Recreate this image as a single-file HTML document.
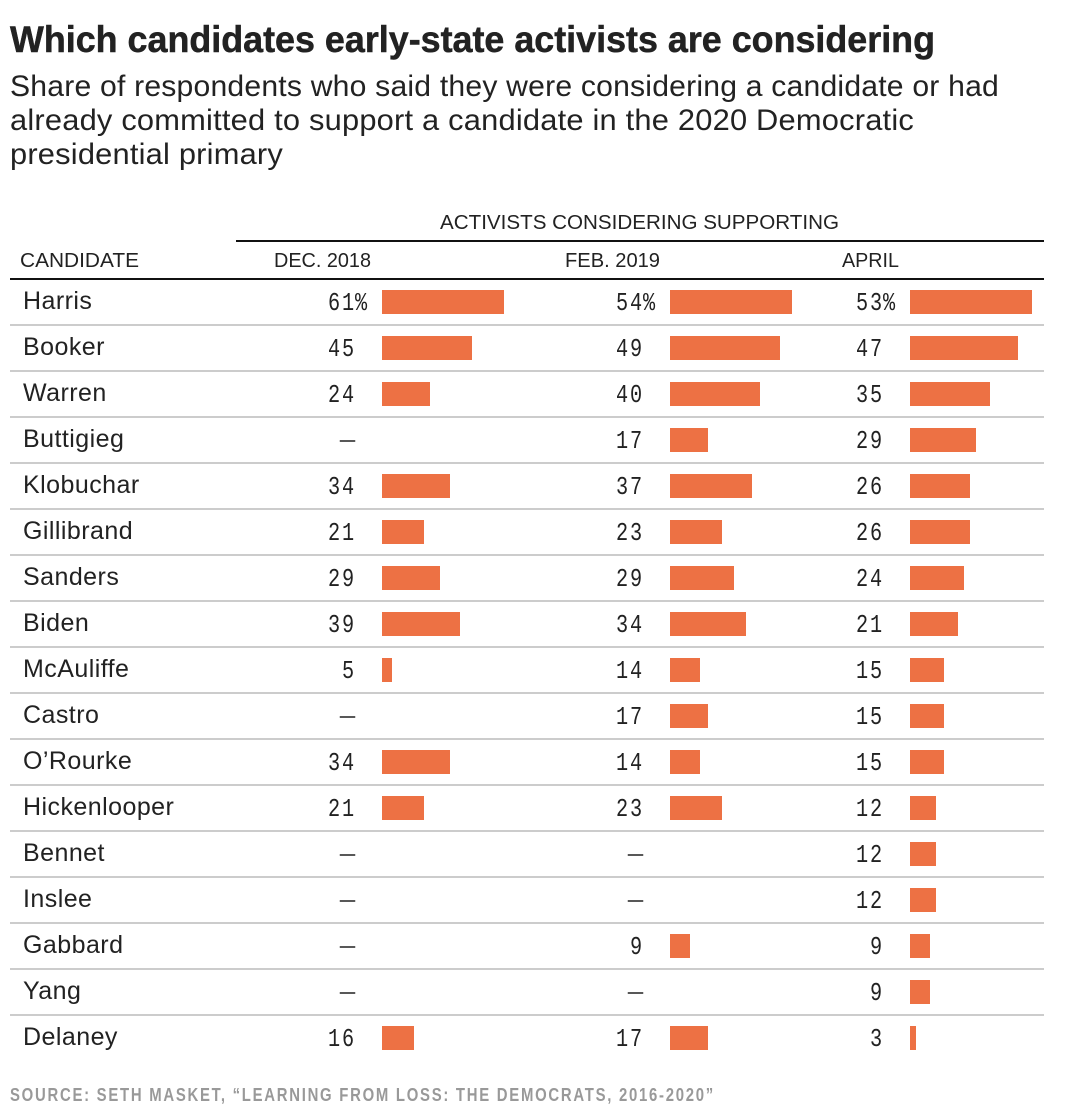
<!DOCTYPE html>
<html>
<head>
<meta charset="utf-8">
<title>Which candidates early-state activists are considering</title>
<style>
html,body{margin:0;padding:0;background:#fff;width:1086px;height:1110px;overflow:hidden}
svg{display:block}
text{font-family:"Liberation Sans",sans-serif;fill:#222}
.title{font-size:37px;font-weight:700;fill:#222;stroke:#222;stroke-width:.5px}
.sub{font-size:29.5px;letter-spacing:.2px;fill:#222}
.head{font-size:20px;fill:#222}
.name{font-size:25px;letter-spacing:.45px;fill:#222}
.num{font-family:"Liberation Mono",monospace;font-size:26px;letter-spacing:2.4px;fill:#222}
.dash{font-size:15px;fill:#222;stroke:#222;stroke-width:.5px}
.src{font-size:18px;font-weight:700;fill:#999;letter-spacing:2.1px}
</style>
</head>
<body>
<svg id="chart" xmlns="http://www.w3.org/2000/svg" width="1086" height="1110" viewBox="0 0 1086 1110">
<rect width="1086" height="1110" fill="#fff"/>
<text class="title" x="10" y="52" textLength="925" lengthAdjust="spacingAndGlyphs">Which candidates early-state activists are considering</text>
<text class="sub" x="10" y="96" textLength="989" lengthAdjust="spacingAndGlyphs">Share of respondents who said they were considering a candidate or had</text>
<text class="sub" x="10" y="130" textLength="904" lengthAdjust="spacingAndGlyphs">already committed to support a candidate in the 2020 Democratic</text>
<text class="sub" x="10" y="164" textLength="273" lengthAdjust="spacingAndGlyphs">presidential primary</text>
<text class="head" x="440" y="229" textLength="399" lengthAdjust="spacingAndGlyphs">ACTIVISTS CONSIDERING SUPPORTING</text>
<rect x="236" y="240" width="808" height="2" fill="#111"/>
<text class="head" x="20" y="267" textLength="119" lengthAdjust="spacingAndGlyphs">CANDIDATE</text>
<text class="head" x="274" y="267" textLength="97" lengthAdjust="spacingAndGlyphs">DEC. 2018</text>
<text class="head" x="565" y="267" textLength="95" lengthAdjust="spacingAndGlyphs">FEB. 2019</text>
<text class="head" x="842" y="267" textLength="57" lengthAdjust="spacingAndGlyphs">APRIL</text>
<rect x="10" y="278" width="1034" height="2" fill="#111"/>
<g id="rows"></g>
<text class="src" x="10" y="1101" textLength="705" lengthAdjust="spacingAndGlyphs">SOURCE: SETH MASKET, “LEARNING FROM LOSS: THE DEMOCRATS, 2016-2020”</text>
</svg>
<script>
var candidates = ["Harris","Booker","Warren","Buttigieg","Klobuchar","Gillibrand","Sanders","Biden","McAuliffe","Castro","O’Rourke","Hickenlooper","Bennet","Inslee","Gabbard","Yang","Delaney"];
var dec2018 = [61,45,24,null,34,21,29,39,5,null,34,21,null,null,null,null,16];
var feb2019 = [54,49,40,17,37,23,29,34,14,17,14,23,null,null,9,null,17];
var april = [53,47,35,29,26,26,24,21,15,15,15,12,12,12,9,9,3];

var NS = 'http://www.w3.org/2000/svg';
var rowsGroup = document.getElementById('rows');
function yRow(i){ return 279 + 46 * i; }
function barWidth(v, k){ return Math.floor(v * k / 2) * 2; }
function svgEl(tag, parent){
  var el = document.createElementNS(NS, tag);
  parent.appendChild(el);
  return el;
}
var columns = [
  {key:'dec-2018', values:dec2018, numRight:354, barX:382, k:2.01},
  {key:'feb-2019', values:feb2019, numRight:642, barX:670, k:2.27},
  {key:'april', values:april, numRight:882, barX:910, k:2.31}
];
candidates.forEach(function(name, i){
  var top = yRow(i);
  var label = svgEl('text', rowsGroup);
  label.setAttribute('class', 'name');
  label.setAttribute('x', 23);
  label.setAttribute('y', top + 30);
  label.textContent = name;
  
  
  columns.forEach(function(col){
    var v = col.values[i];
    var t = svgEl('text', rowsGroup);
    t.setAttribute('text-anchor', 'end');
    if (v === null) {
      t.setAttribute('class', 'dash');
      t.setAttribute('x', col.numRight + 1);
      t.setAttribute('y', top + 28);
      t.textContent = '—';
    } else {
      var s = String(v);
      t.setAttribute('class', 'num');
      t.setAttribute('x', col.numRight + 2);
      t.setAttribute('y', top + 31);
      t.setAttribute('textLength', s.length * 14);
      t.setAttribute('lengthAdjust', 'spacingAndGlyphs');
      t.textContent = s;
    }
    
    
    if (v !== null && i === 0) {
      var pct = svgEl('text', rowsGroup);
      pct.setAttribute('class', 'num');
      pct.setAttribute('x', col.numRight + 1);
      pct.setAttribute('y', top + 31);
      pct.setAttribute('textLength', 14);
      pct.setAttribute('lengthAdjust', 'spacingAndGlyphs');
      pct.textContent = '%';
      
      
    }
    if (v !== null) {
      var bar = svgEl('rect', rowsGroup);
      bar.setAttribute('x', col.barX);
      bar.setAttribute('y', top + 11);
      bar.setAttribute('width', barWidth(v, col.k));
      bar.setAttribute('height', 24);
      bar.setAttribute('fill', '#ED7144');
      
      
    }
  });
  if (i < candidates.length - 1) {
    var rule = svgEl('rect', rowsGroup);
    rule.setAttribute('x', 10);
    rule.setAttribute('y', top + 45);
    rule.setAttribute('width', 1034);
    rule.setAttribute('height', 2);
    rule.setAttribute('fill', '#ccc');
    
    
  }
});
</script>
</body>
</html>
